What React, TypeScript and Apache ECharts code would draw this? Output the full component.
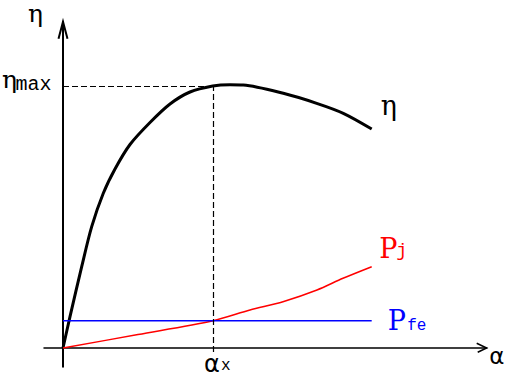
import React, { useEffect, useRef } from "react";
import * as echarts from "echarts";

// α values (x) and efficiency η values (y)
const etaAlpha = [0, 0.7, 1.87, 2.87, 4.03, 5.2, 6.7, 8.7, 10.7, 12.7, 14.97, 16.7, 18.03, 22.03, 25.37, 28.03, 30.87];
const etaValues = [0, 3.13, 8.13, 12.13, 15.47, 17.9, 20.35, 22.55, 24.4, 25.6, 26.2, 26.33, 26.3, 25.47, 24.47, 23.47, 21.9];
// copper loss Pj
const pjAlpha = [0, 7.5, 15, 18.7, 22, 25.4, 28, 30.87];
const pjValues = [0, 1.35, 2.73, 3.8, 4.63, 5.8, 6.97, 8.13];
// iron loss Pfe (constant)
const pfeAlpha = [0, 30.87];
const pfeValues = [2.73, 2.73];
// marked point
const alphaX = 15;
const etaMax = 26.2;

const xMin = -1.9, xMax = 42.37, yMin = -1.87, yMax = 32.63;

const zip = (a: number[], b: number[]) => a.map((v, i) => [v, b[i]]);

export default function App() {
  const ref = useRef<HTMLDivElement>(null);
  useEffect(() => {
    const chart = echarts.init(ref.current!, undefined, { renderer: "svg" });
    const dash = { color: "#000", width: 1.2, type: [6, 3] as any };
    chart.setOption({
      animation: false,
      backgroundColor: "#fff",
      grid: { left: 44, right: 23.3, top: 21.7, bottom: 9.3 },
      xAxis: {
        type: "value", min: xMin, max: xMax,
        axisLine: { show: true, onZero: true, lineStyle: { color: "#000", width: 1.5 } },
        axisTick: { show: false }, axisLabel: { show: false }, splitLine: { show: false },
      },
      yAxis: {
        type: "value", min: yMin, max: yMax,
        axisLine: { show: true, onZero: true, lineStyle: { color: "#000", width: 2 } },
        axisTick: { show: false }, axisLabel: { show: false }, splitLine: { show: false },
      },
      series: [
        {
          type: "line", data: zip(etaAlpha, etaValues), smooth: 0.3,
          showSymbol: false, symbol: "none", lineStyle: { color: "#000", width: 3 },
          markLine: {
            silent: true, symbol: "none", label: { show: false }, lineStyle: dash,
            data: [
              [{ coord: [0, etaMax] }, { coord: [alphaX, etaMax] }],
              [{ coord: [alphaX, -0.4] }, { coord: [alphaX, etaMax] }],
            ],
          },
        },
        {
          type: "line", data: zip(pjAlpha, pjValues), smooth: 0.3, showSymbol: false, symbol: "none",
          lineStyle: { color: "#ff0000", width: 1.5 },
        },
        {
          type: "line", data: zip(pfeAlpha, pfeValues), showSymbol: false, symbol: "none",
          lineStyle: { color: "#0000ff", width: 1.5 },
        },
      ],
    });

    const px = (x: number, y: number) => chart.convertToPixel({ gridIndex: 0 }, [x, y]) as number[];
    const O = px(0, 0);
    const yTip = px(0, yMax);
    const xTip = px(xMax, 0);
    const etaEnd = px(etaAlpha[etaAlpha.length - 1], etaValues[etaValues.length - 1]);
    const pjEnd = px(pjAlpha[pjAlpha.length - 1], pjValues[pjValues.length - 1]);
    const pfeEnd = px(pfeAlpha[pfeAlpha.length - 1], pfeValues[pfeValues.length - 1]);
    const mx = px(alphaX, etaMax);

    const serif = "DejaVu Serif";
    const sans = "DejaVu Sans";
    const mono = "Liberation Mono";
    const txt = (text: string, x: number, y: number, font: string, size: number, fill = "#000", lh = size) => ({
      type: "text", x, y, silent: true,
      style: { text, fill, font: `${size}px "${font}"`, lineHeight: lh, align: "left", verticalAlign: "middle" },
    });

    chart.setOption({
      graphic: [
        { type: "polyline", silent: true, shape: { points: [[yTip[0] - 4.5, yTip[1] + 17], [yTip[0], yTip[1]], [yTip[0] + 4.5, yTip[1] + 17]] }, style: { stroke: "#000", lineWidth: 2, fill: "none" } },
        { type: "polyline", silent: true, shape: { points: [[xTip[0] - 10, xTip[1] - 4.8], [xTip[0], xTip[1]], [xTip[0] - 9, xTip[1] + 4.3]] }, style: { stroke: "#000", lineWidth: 1.5, fill: "none" } },
        txt("η", yTip[0] - 35, yTip[1] - 8, serif, 25, "#000", 20),
        txt("α", xTip[0] + 2.5, xTip[1] + 7.5, sans, 23),
        txt("η", O[0] - 61, mx[1] - 7, serif, 25),
        txt("max", O[0] - 47.5, mx[1] - 2, mono, 20),
        txt("α", mx[0] - 9, O[1] + 15.5, sans, 24),
        txt("x", mx[0] + 8, O[1] + 17.5, mono, 16),
        txt("η", etaEnd[0] + 9, etaEnd[1] - 23.5, serif, 27),
        txt("P", pjEnd[0] + 7.5, pjEnd[1] - 18.7, serif, 27, "#ff0000"),
        txt("j", pjEnd[0] + 24.5, pjEnd[1] - 15.5, mono, 18, "#ff0000"),
        txt("P", pfeEnd[0] + 16, pfeEnd[1] + 0, serif, 27, "#0000ff"),
        txt("fe", pfeEnd[0] + 35.5, pfeEnd[1] + 5, mono, 16, "#0000ff"),
      ],
    });
    return () => chart.dispose();
  }, []);
  return <div ref={ref} style={{ position: "fixed", left: 0, top: 0, width: 510, height: 376 }} />;
}
